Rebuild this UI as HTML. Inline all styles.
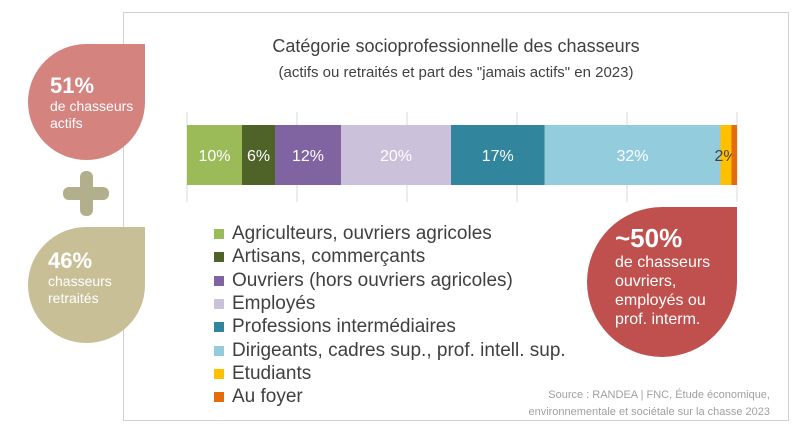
<!DOCTYPE html>
<html><head><meta charset="utf-8"><style>
body{margin:0;width:800px;height:430px;background:#fff;font-family:"Liberation Sans",sans-serif;overflow:hidden;position:relative}
.abs{position:absolute}
.drop{position:absolute;border-radius:50% 0 50% 50%;color:#fff}
.drop b{display:block;font-size:22px;line-height:24px}
.drop span{display:block;font-size:14px;line-height:17px}
.leg{position:absolute;left:214px;font-size:19px;color:#404040;white-space:nowrap;line-height:22px}
.leg i{position:absolute;left:0;top:6px;width:10px;height:10px}
.leg span{position:absolute;left:18px;top:0}
</style></head><body>
<div class="abs" style="left:123px;top:12px;width:664px;height:407px;border:1px solid #d0d0d0"></div>
<div class="abs" style="left:123px;width:666px;top:36px;text-align:center;font-size:18px;color:#404040">Catégorie socioprofessionnelle des chasseurs</div>
<div class="abs" style="left:123px;width:666px;top:64px;text-align:center;font-size:15px;color:#404040">(actifs ou retraités et part des "jamais actifs" en 2023)</div>
<svg class="abs" style="left:0;top:0" width="800" height="430"></svg>
<div id="legend"></div>

<div class="drop" style="left:28px;top:44px;width:117px;height:116px;background:#d4837f"><div style="padding:30px 0 0 22px"><b>51%</b><span>de chasseurs<br>actifs</span></div></div>
<div class="abs" style="left:63px;top:187px;width:46px;height:13px;background:#b1af8c;border-radius:6px"></div>
<div class="abs" style="left:80px;top:171px;width:13px;height:45px;background:#b1af8c;border-radius:6px"></div>
<div class="drop" style="left:28px;top:227px;width:117px;height:116px;background:#c8bf97"><div style="padding:22px 0 0 20px"><b>46%</b><span>chasseurs<br>retraités</span></div></div>
<div class="drop" style="left:587px;top:207px;width:150px;height:150px;background:#c0504d"><div style="padding:16px 0 0 28px"><b style="font-size:26px;line-height:30px">~50%</b><span style="font-size:16px;line-height:19px">de chasseurs<br>ouvriers,<br>employés ou<br>prof. interm.</span></div></div>
<div class="abs" style="right:30px;top:387px;text-align:right;font-size:11px;line-height:17px;color:#a0a0a0">Source : RANDEA | FNC, Étude économique,<br>environnementale et sociétale sur la chasse 2023</div>
<script>
const categories=["Agriculteurs, ouvriers agricoles","Artisans, commerçants","Ouvriers (hors ouvriers agricoles)","Employés","Professions intermédiaires","Dirigeants, cadres sup., prof. intell. sup.","Etudiants","Au foyer"];
const values=[10,6,12,20,17,32,2,1];
const labels=["10%","6%","12%","20%","17%","32%","2%",""];
const gridTicks=[0,20,40,60,80,100];
const colors=["#9bbb59","#4f6228","#8064a2","#ccc1da","#31859c","#93cddd","#ffc000","#e46c0a"];
const NS="http://www.w3.org/2000/svg";
const svg=document.querySelector('svg');
const x0=187,w=550,y0=125,h=60;
const total=values.reduce((a,b)=>a+b,0);
const xs=v=>x0+v/100*w;
gridTicks.forEach(t=>{const l=document.createElementNS(NS,'line');
l.setAttribute('x1',xs(t));l.setAttribute('x2',xs(t));l.setAttribute('y1',112);l.setAttribute('y2',202);
l.setAttribute('stroke','#d9d9d9');


svg.appendChild(l);});
let acc=0;
values.forEach((v,i)=>{const pv=v/total*100;
const r=document.createElementNS(NS,'rect');
r.setAttribute('x',xs(acc));r.setAttribute('y',y0);r.setAttribute('width',pv/100*w);r.setAttribute('height',h);r.setAttribute('fill',colors[i]);


svg.appendChild(r);
if(labels[i]){const t=document.createElementNS(NS,'text');
t.setAttribute('x',xs(acc+pv/2));t.setAttribute('y',y0+h/2+6);t.setAttribute('text-anchor','middle');
t.setAttribute('font-size','16');t.setAttribute('font-family','Liberation Sans, sans-serif');
t.setAttribute('fill',i===6?'#404040':'#fff');t.textContent=labels[i];


svg.appendChild(t);}
acc+=pv;});
const lg=document.getElementById('legend');
categories.forEach((c,i)=>{const d=document.createElement('div');d.className='leg';d.style.top=(223+i*23.3)+'px';
d.innerHTML='<i style="background:'+colors[i]+'"></i><span>'+c+'</span>';


lg.appendChild(d);});
</script>
</body></html>
